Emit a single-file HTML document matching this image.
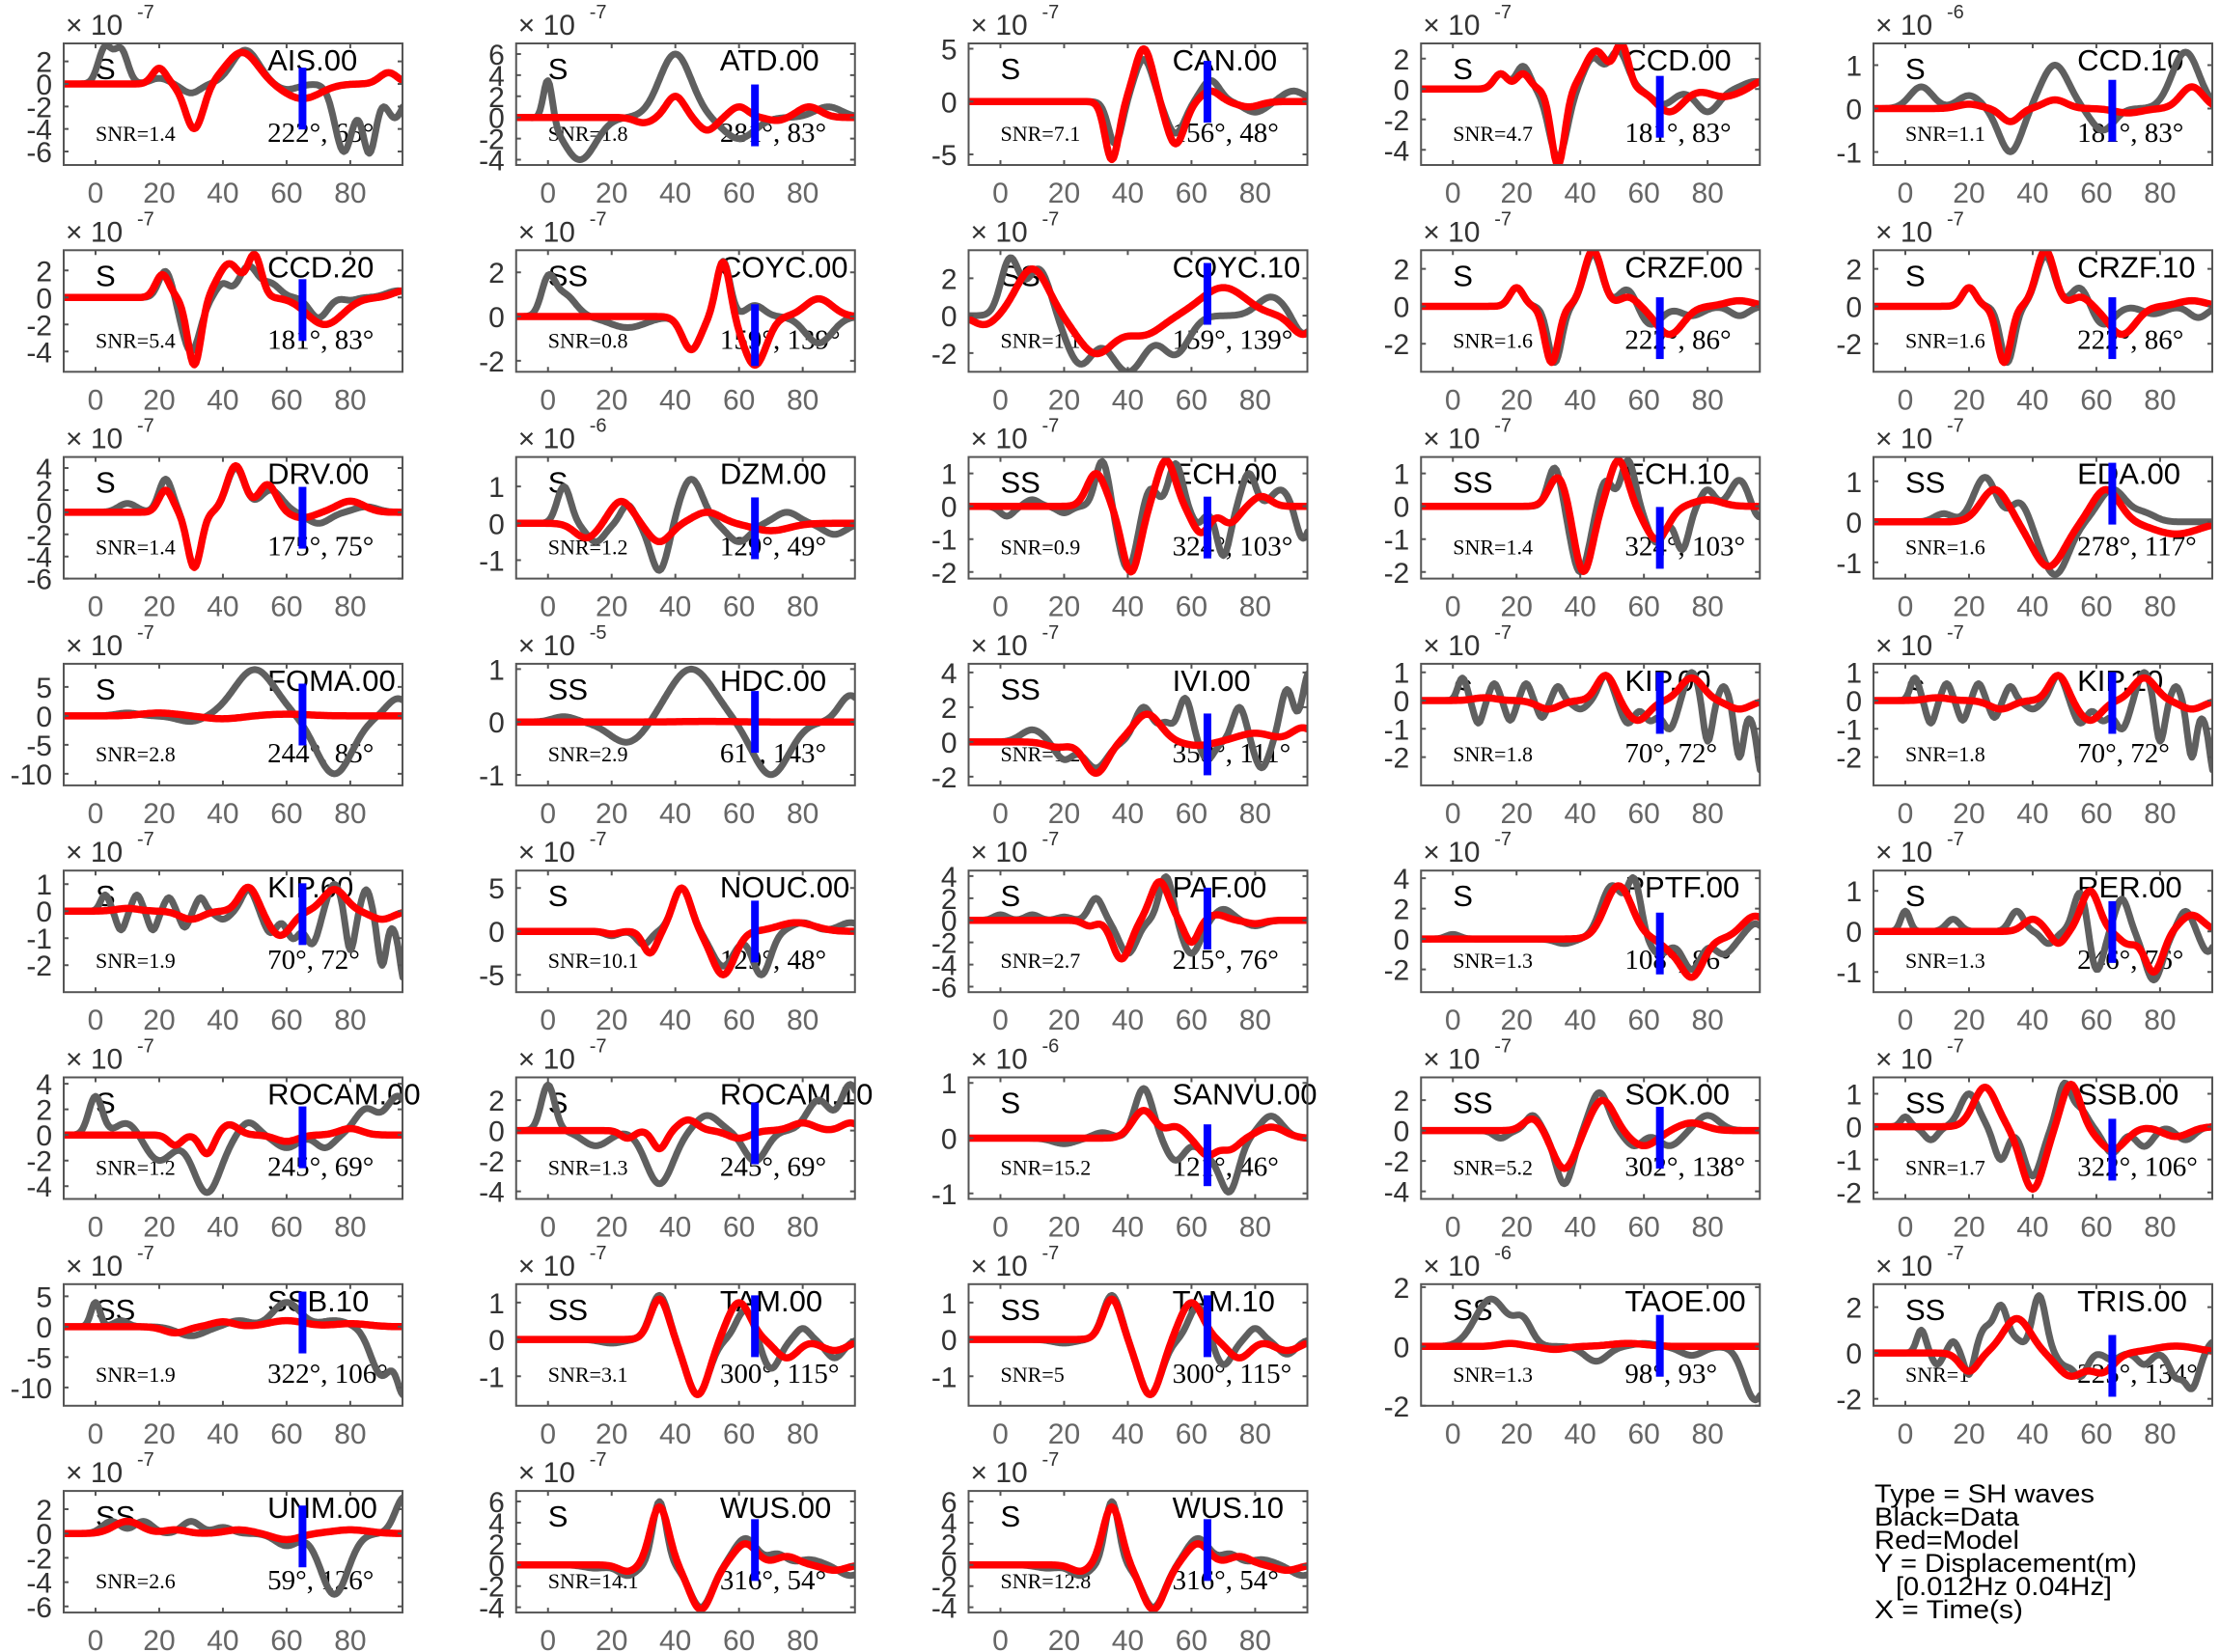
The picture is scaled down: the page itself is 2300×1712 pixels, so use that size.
<!DOCTYPE html>
<html><head><meta charset="utf-8">
<style>
html,body{margin:0;padding:0;background:#fff;}
svg{display:block;}
.s{font-family:"Liberation Sans",sans-serif;}
.r{font-family:"Liberation Serif",serif;}
</style></head>
<body>
<svg id="c" xmlns="http://www.w3.org/2000/svg" width="2300" height="1712" viewBox="0 0 2300 1712">
<rect width="2300" height="1712" fill="#fff"/>
<g class="s" fill="#000" font-size="27">
<text x="1942" y="1557" textLength="228" lengthAdjust="spacingAndGlyphs">Type = SH waves</text>
<text x="1942" y="1581" textLength="150" lengthAdjust="spacingAndGlyphs">Black=Data</text>
<text x="1942" y="1605" textLength="150" lengthAdjust="spacingAndGlyphs">Red=Model</text>
<text x="1942" y="1629" textLength="272" lengthAdjust="spacingAndGlyphs">Y = Displacement(m)</text>
<text x="1964" y="1653" textLength="224" lengthAdjust="spacingAndGlyphs">[0.012Hz 0.04Hz]</text>
<text x="1942" y="1677" textLength="154" lengthAdjust="spacingAndGlyphs">X = Time(s)</text>
</g>
</svg>
<script>
var P=[
["AIS.00","S","1.4","222°, 65°",-7,[2,0,-2,-4,-6],[-7.2,3.6],[[3,3.2,3],[8,3,3],[20,0.5,4],[30,-0.8,4],[47,3,6],[60,-0.5,5],[78,-6,4],[86,-6,3],[94,-3,4]],[[20,1.4,3],[31,-4,4],[46,2.8,7],[65,-1.3,8],[92,1,4]]],
["ATD.00","S","1.8","281°, 83°",-7,[6,4,2,0,-2,-4],[-4.5,7],[[0,4,2],[10,-4,7],[40,6,7],[60,-2,7],[88,1,6]],[[30,-0.5,4],[40,2,4],[50,-1.2,4],[60,1,4],[72,-0.3,4],[82,1,5]]],
["CAN.00","S","7.1","156°, 48°",-7,[5,0,-5],[-6,5.5],[[36,-4,3],[45,4,4],[55,-3,4],[66,2,4],[80,-1,5],[92,1,5]],[[35,-5.5,3],[45,5,4],[55,-4,4],[66,1,4],[78,-0.5,5]]],
["CCD.00","S","4.7","181°, 83°",-7,[2,0,-2,-4],[-5,3],[[15,1,3],[22,1.5,3],[33,-4.5,4],[44,2,4],[52,2.5,4],[66,-1,5],[80,-1.5,5],[95,0.5,5]],[[15,1,3],[22,1,3],[33,-5,3],[45,2.5,5],[53,2.8,3],[68,-1.5,6],[85,-0.5,6],[97,0.5,4]]],
["CCD.10","S","1.1","181°, 83°",-6,[1,0,-1],[-1.3,1.5],[[5,0.5,5],[20,0.3,5],[33,-1,5],[47,1,6],[62,-0.5,5],[88,1.3,6]],[[20,0.1,5],[33,-0.3,4],[47,0.2,5],[70,-0.1,6],[90,0.5,5]]],
["CCD.20","S","5.4","181°, 83°",-7,[2,0,-2,-4],[-5.5,3.5],[[22,2,3],[30,-4,4],[40,1,3],[48,2.3,4],[55,1,4],[70,-1.5,4],[80,-0.2,3],[95,0.5,5]],[[21,1.7,3],[31,-5,3],[42,2.5,5],[50,3,3],[72,-2,8],[97,0.5,5]]],
["COYC.00","SS","0.8","159°, 139°",-7,[2,0,-2],[-2.5,3],[[0,1.5,3],[5,1,5],[25,-0.5,8],[45,-1.5,4],[55,2.5,3],[65,0.5,4],[85,-1.2,6]],[[45,-1.5,4],[55,2.5,3],[65,-2.2,5],[85,0.8,6]]],
["COYC.10","SS","1.1","159°, 139°",-7,[2,0,-2],[-3,3.5],[[3,3,4],[12,2.5,5],[25,-2.5,6],[40,-3,8],[55,-2,6],[85,1,6],[95,-1,4]],[[-5,-0.5,5],[10,2.5,7],[30,-2,8],[45,-1,8],[70,1.5,10],[95,-1,5]]],
["CRZF.00","S","1.6","222°, 86°",-7,[2,0,-2],[-3.5,3],[[20,1,3],[32,-3,3],[44,2.8,4],[55,1,4],[62,-1,5],[75,-0.5,5],[90,-0.5,4]],[[20,1,3],[31,-3,3],[44,3,4],[55,0.5,4],[68,-1.5,6],[90,0.3,6]]],
["CRZF.10","S","1.6","222°, 86°",-7,[2,0,-2],[-3.5,3],[[20,1,3],[32,-3,3],[44,2.7,4],[55,1.1,4],[62,-1,5],[78,-0.4,5],[92,-0.6,4]],[[20,1,3],[31,-3,3],[44,3,4],[55,0.5,4],[68,-1.5,6],[90,0.3,6]]],
["DRV.00","S","1.4","175°, 75°",-7,[4,2,0,-2,-4,-6],[-6,5],[[10,0.8,4],[22,3,3],[31,-5,3],[44,4,4],[55,2,5],[70,-1,5],[85,0.5,5]],[[22,2,3],[31,-5,3],[44,4.2,4],[54,2.5,4],[65,-0.5,5],[80,1,6]]],
["DZM.00","S","1.2","129°, 49°",-6,[1,0,-1],[-1.5,1.8],[[5,1,3],[15,-0.5,4],[25,0.5,3],[35,-1.3,4],[45,1.2,5],[60,-0.5,5],[75,0.3,5],[90,-0.3,5]],[[12,-0.4,5],[23,0.6,5],[35,-0.5,5],[50,0.3,6],[70,-0.2,8]]],
["ECH.00","SS","0.9","324°, 103°",-7,[1,0,-1,-2],[-2.2,1.5],[[2,-0.3,3],[10,0.2,3],[20,-0.2,3],[32,1.4,3],[40,-1.9,4],[47,0.6,3],[55,1.3,3],[62,-0.5,3],[70,-1.5,3],[78,1,3],[88,0.5,4],[95,-1,3]],[[30,1,4],[41,-2,4],[52,1.4,4],[63,-0.8,4],[72,-0.5,4],[82,0.3,4]]],
["ECH.10","SS","1.4","324°, 103°",-7,[1,0,-1,-2],[-2.2,1.5],[[32,1.2,3],[40,-2,4],[48,0.8,3],[55,1.4,3],[64,-1.1,4],[72,-1.3,3],[80,0.5,3],[90,0.8,4],[96,-0.4,3]],[[33,0.9,4],[41,-2,4],[52,1.4,4],[64,-1,5],[80,0.2,6]]],
["EDA.00","SS","1.6","278°, 117°",-7,[1,0,-1],[-1.4,1.6],[[12,0.2,4],[25,1.1,5],[36,0.5,4],[47,-1.3,6],[65,0.8,6],[75,0.2,5]],[[28,0.8,6],[45,-1.1,7],[63,0.8,6],[85,-0.3,10]]],
["FOMA.00","S","2.8","244°, 85°",-7,[5,0,-5,-10],[-12,9],[[10,0.5,5],[30,-1,6],[50,8,9],[75,-10,8],[95,3,5]],[[20,0.5,8],[40,-0.5,8],[60,0.3,10]]],
["HDC.00","SS","2.9","61°, 143°",-5,[1,0,-1],[-1.2,1.1],[[5,0.1,5],[25,-0.4,8],[45,1,10],[70,-1,8],[95,0.5,5]],[[50,0.01,10]]],
["IVI.00","SS","1.2","358°, 111°",-7,[4,2,0,-2],[-2.5,4.5],[[10,0.7,5],[20,-1,4],[30,-1.5,5],[45,2,4],[52,1,3],[58,2.5,3],[65,-1,3],[75,2,3],[82,-1.5,3],[90,3,3],[97,4,3]],[[18,-0.3,5],[30,-1.8,5],[46,1.6,6],[62,-0.2,6],[80,0.5,8],[95,0.8,5]]],
["KIP.00","S","1.8","70°, 72°",-7,[1,0,-1,-2],[-3,1.3],[[3,0.8,2],[8,-0.8,2],[13,0.6,2],[18,-0.7,2],[23,0.6,2],[28,-0.6,2],[33,0.5,2],[40,-0.3,3],[48,0.9,3],[55,-0.8,3],[62,-0.7,3],[68,-1,3],[75,1,3],[80,-1.5,2],[85,0.5,2],[90,-2,2],[94,-0.5,2],[97,-2.5,2]],[[10,0.1,5],[30,-0.3,5],[48,0.9,4],[58,-0.7,5],[75,0.8,5],[90,-0.3,5]]],
["KIP.10","S","1.8","70°, 72°",-7,[1,0,-1,-2],[-3,1.3],[[3,0.8,2],[8,-0.8,2],[13,0.6,2],[18,-0.7,2],[23,0.6,2],[28,-0.6,2],[33,0.5,2],[40,-0.3,3],[48,0.9,3],[55,-0.8,3],[62,-0.7,3],[68,-1,3],[75,1,3],[80,-1.5,2],[85,0.5,2],[90,-2,2],[94,-0.5,2],[97,-2.5,2]],[[10,0.1,5],[30,-0.3,5],[48,0.9,4],[58,-0.7,5],[75,0.8,5],[90,-0.3,5]]],
["KIP.60","S","1.9","70°, 72°",-7,[1,0,-1,-2],[-3,1.5],[[3,0.6,2],[8,-0.7,2],[13,0.6,2],[18,-0.7,2],[23,0.5,2],[28,-0.6,2],[33,0.5,2],[40,-0.3,3],[48,0.8,3],[55,-0.8,3],[62,-1,3],[68,-1.2,3],[75,1,3],[80,-1.5,2],[85,0.8,2],[90,-2,2],[94,-0.5,2],[97,-2.5,2]],[[10,0.1,5],[30,-0.3,5],[48,0.9,4],[58,-0.9,5],[75,0.8,5],[90,-0.3,5]]],
["NOUC.00","S","10.1","129°, 48°",-7,[5,0,-5],[-7,7],[[20,-0.5,3],[30,-1.5,3],[42,5,4],[55,-4,5],[67,-5,4],[80,1,5],[95,1,5]],[[20,-0.3,3],[32,-2.5,3],[42,5,4],[55,-5,5],[78,1,8]]],
["PAF.00","S","2.7","215°, 76°",-7,[4,2,0,-2,-4,-6],[-6.5,4.5],[[0,0.5,3],[10,0.5,3],[20,0.3,3],[30,2,3],[40,-3,4],[52,4,3],[60,-3,4],[70,1,4],[80,-0.5,4]],[[28,-0.5,3],[38,-3.5,4],[50,3.5,4],[60,-2,3],[68,0.5,4],[80,-0.3,4]]],
["PPTF.00","S","1.3","108°, 86°",-7,[4,2,0,-2],[-3.5,4.5],[[0,0.3,3],[35,-0.3,4],[50,3.5,5],[57,3.5,3],[65,-1,4],[75,-2,4],[85,-1,4],[95,1,4]],[[52,3.5,6],[68,-0.5,4],[75,-2.5,5],[95,1.5,6]]],
["RER.00","S","1.3","246°, 76°",-7,[1,0,-1],[-1.5,1.5],[[0,0.5,2],[15,0.3,3],[35,0.5,3],[45,-0.3,3],[55,1,3],[60,-1,3],[68,0.8,3],[78,-1.2,4],[88,0.5,3],[95,-0.5,3]],[[40,0.3,4],[48,-0.3,3],[58,1,4],[70,-0.3,4],[78,-1,4],[90,0.4,5]]],
["ROCAM.00","S","1.2","245°, 69°",-7,[4,2,0,-2,-4],[-5,4.5],[[0,3,3],[10,1,5],[20,-2,6],[35,-4.5,6],[48,1,4],[60,-1,5],[72,-1,4],[85,2,5],[95,3,5]],[[25,-0.8,3],[35,-1.5,3],[42,0.8,4],[60,-0.5,5],[80,0.5,5]]],
["ROCAM.10","S","1.3","245°, 69°",-7,[2,0,-2,-4],[-4.5,3.5],[[0,3,3],[15,-1,6],[35,-3.5,6],[50,1,5],[65,-2,5],[85,2,5],[95,3,4]],[[25,-0.5,3],[35,-1.2,3],[44,0.7,4],[60,-0.5,5],[80,0.5,5],[95,0.5,4]]],
["SANVU.00","S","15.2","121°, 46°",-6,[1,0,-1],[-1.1,1.1],[[20,-0.1,5],[32,0.1,4],[45,0.9,4],[55,-0.4,4],[66,-0.3,5],[72,-0.9,4],[85,0.4,5]],[[45,0.5,5],[55,0.2,4],[65,-0.3,4],[72,-0.2,4],[85,0.2,6]]],
["SOK.00","SS","5.2","302°, 138°",-7,[2,0,-2,-4],[-4.5,3.5],[[15,-0.5,3],[25,1,3],[35,-3.5,4],[46,2.5,4],[57,-1,4],[68,-1,5],[80,1,5]],[[25,0.8,4],[35,-2.5,5],[47,2,5],[60,-1,6],[75,0.5,6]]],
["SSB.00","SS","1.7","322°, 106°",-7,[1,0,-1,-2],[-2.2,1.5],[[0,0.3,2],[8,-0.4,3],[20,1,4],[30,-1,3],[40,-1.5,4],[50,1.3,3],[55,0.5,3],[65,-0.8,4],[75,-0.6,4],[88,-0.4,4]],[[25,1.2,5],[40,-1.9,5],[52,1.3,4],[65,-0.7,6],[85,-0.3,6]]],
["SSB.10","SS","1.9","322°, 106°",-7,[5,0,-5,-10],[-13,7],[[0,4,2],[8,1,3],[30,-1.5,6],[45,1,5],[60,4,6],[75,1,6],[90,-8,5],[97,-10,3]],[[25,-1,5],[40,0.8,5],[60,1,8],[80,0.5,8]]],
["TAM.00","SS","3.1","300°, 115°",-7,[1,0,-1],[-1.8,1.5],[[20,-0.1,5],[35,1.2,4],[47,-1.5,5],[62,0.8,4],[70,-0.8,4],[80,0.3,3],[90,-0.5,4]],[[35,1.1,4],[47,-1.5,5],[60,1,5],[75,-0.5,5],[90,-0.3,6]]],
["TAM.10","SS","5","300°, 115°",-7,[1,0,-1],[-1.8,1.5],[[20,-0.1,5],[35,1.2,4],[47,-1.5,5],[62,0.9,4],[70,-0.7,4],[80,0.3,3],[90,-0.4,4]],[[35,1.1,4],[47,-1.5,5],[60,1,5],[75,-0.5,5],[90,-0.3,6]]],
["TAOE.00","SS","1.3","98°, 93°",-6,[2,0,-2],[-2,2.1],[[12,1.6,7],[22,0.8,4],[45,-0.5,5],[60,0.1,5],[75,-0.3,5],[95,-1.8,5]],[[18,0.1,5],[32,-0.1,5],[55,0.1,8]]],
["TRIS.00","SS","1","225°, 134°",-7,[2,0,-2],[-2.3,3],[[5,1,2],[10,-0.5,2],[15,0.5,2],[20,-1,2],[25,1,3],[30,2,3],[35,0.5,3],[42,2.5,3],[50,-0.5,3],[55,-1,3],[65,-0.3,3],[75,-0.5,3],[85,-1,3],[90,-1.5,3],[97,0.5,3]],[[20,-0.8,4],[35,1.5,6],[52,-1,6],[62,-0.8,5],[85,0.3,10]]],
["UNM.00","SS","2.6","59°, 126°",-7,[2,0,-2,-4,-6],[-6.5,3.5],[[5,1,4],[15,1,4],[30,1,4],[40,0.5,4],[60,-1,5],[75,-5,6],[97,3,4]],[[10,1,6],[25,0.3,5],[45,0.3,6],[60,-0.5,6],[80,0.3,8]]],
["WUS.00","S","14.1","316°, 54°",-7,[6,4,2,0,-2,-4],[-4.5,7],[[15,-0.3,5],[25,-1,4],[35,6,3],[48,-4,5],[62,2.5,5],[72,1,4],[82,0.5,5],[95,-1,5]],[[25,-0.6,4],[35,5.5,4],[48,-4.2,5],[62,2,5],[75,0.8,5],[90,-0.5,5]]],
["WUS.10","S","12.8","316°, 54°",-7,[6,4,2,0,-2,-4],[-4.5,7],[[15,-0.3,5],[25,-1,4],[35,6,3],[48,-4,5],[62,2.5,5],[72,1,4],[82,0.5,5],[95,-1,5]],[[25,-0.6,4],[35,5.5,4],[48,-4.2,5],[62,2,5],[75,0.8,5],[90,-0.5,5]]]
];
var svg=document.getElementById('c'),h='';
function f(b,t){var s=0;for(var i=0;i<b.length;i++){var d=(t-b[i][0])/b[i][2];s+=b[i][1]*Math.exp(-d*d);}return s;}
for(var k=0;k<P.length;k++){
 var p=P[k],r=Math.floor(k/5),c=k%5;
 if(k>=33){r=7;c=k-35;} if(k>=33&&k<35){r=6;c=k-30;}
 var L=66+c*468.75,T=45+r*214.3,W=351,H=126,y0=p[6][0],y1=p[6][1];
 var X=function(t){return L+(t+10)/106.4*W;},Y=function(v){return T+(y1-v)/(y1-y0)*H;};
 h+='<clipPath id="k'+k+'"><rect x="'+L+'" y="'+T+'" width="'+W+'" height="'+H+'"/></clipPath>';
 var tk='';
 for(var t=0;t<=80;t+=20){var xx=X(t);tk+='M'+xx+' '+(T+H)+'v-5M'+xx+' '+T+'v5';
  h+='<text x="'+xx+'" y="'+(T+H+39)+'" text-anchor="middle" font-size="30" fill="#666" class="s">'+t+'</text>';}
 for(var i=0;i<p[5].length;i++){var yy=Y(p[5][i]);tk+='M'+L+' '+yy+'h5M'+(L+W)+' '+yy+'h-5';
  h+='<text x="'+(L-12)+'" y="'+(yy+11)+'" text-anchor="end" font-size="30" fill="#333" class="s">'+p[5][i]+'</text>';}
 h+='<text x="'+(L+2)+'" y="'+(T-9)+'" font-size="30" fill="#333" class="s">× 10</text>';
 h+='<text x="'+(L+76)+'" y="'+(T-26)+'" font-size="20" fill="#333" class="s">'+p[4]+'</text>';
 h+='<text x="'+X(0)+'" y="'+(T+37)+'" font-size="31" class="s">'+p[1]+'</text>';
 h+='<text x="'+X(54)+'" y="'+(T+28)+'" font-size="31" class="s">'+p[0]+'</text>';
 h+='<text x="'+X(0)+'" y="'+(T+101)+'" font-size="22" class="r">SNR='+p[2]+'</text>';
 h+='<text x="'+X(54)+'" y="'+(T+102)+'" font-size="29" class="r">'+p[3]+'</text>';
 var g='',m='';
 for(var t=-10;t<=96.5;t+=0.5){g+=(t==-10?'M':'L')+X(t).toFixed(1)+' '+Y(f(p[7],t)).toFixed(1);m+=(t==-10?'M':'L')+X(t).toFixed(1)+' '+Y(f(p[8],t)).toFixed(1);}
 h+='<g clip-path="url(#k'+k+')" fill="none" stroke-linejoin="round" stroke-linecap="round"><path d="'+g+'" stroke="#5f5f5f" stroke-width="7"/><path d="'+m+'" stroke="#f00" stroke-width="7.5"/></g>';
 var mv=Y(f(p[8],65)),bt=Math.max(T+6,mv-32),bb=Math.min(T+H-6,bt+64);bt=Math.min(bt,bb-64);
 h+='<rect x="'+(X(65)-4)+'" y="'+bt+'" width="8" height="'+(bb-bt)+'" fill="#00f"/>';
 h+='<rect x="'+L+'" y="'+T+'" width="'+W+'" height="'+H+'" fill="none" stroke="#555" stroke-width="2"/><path d="'+tk+'" stroke="#555" stroke-width="2"/>';
}
svg.insertAdjacentHTML('beforeend',h);
</script>
</body></html>
